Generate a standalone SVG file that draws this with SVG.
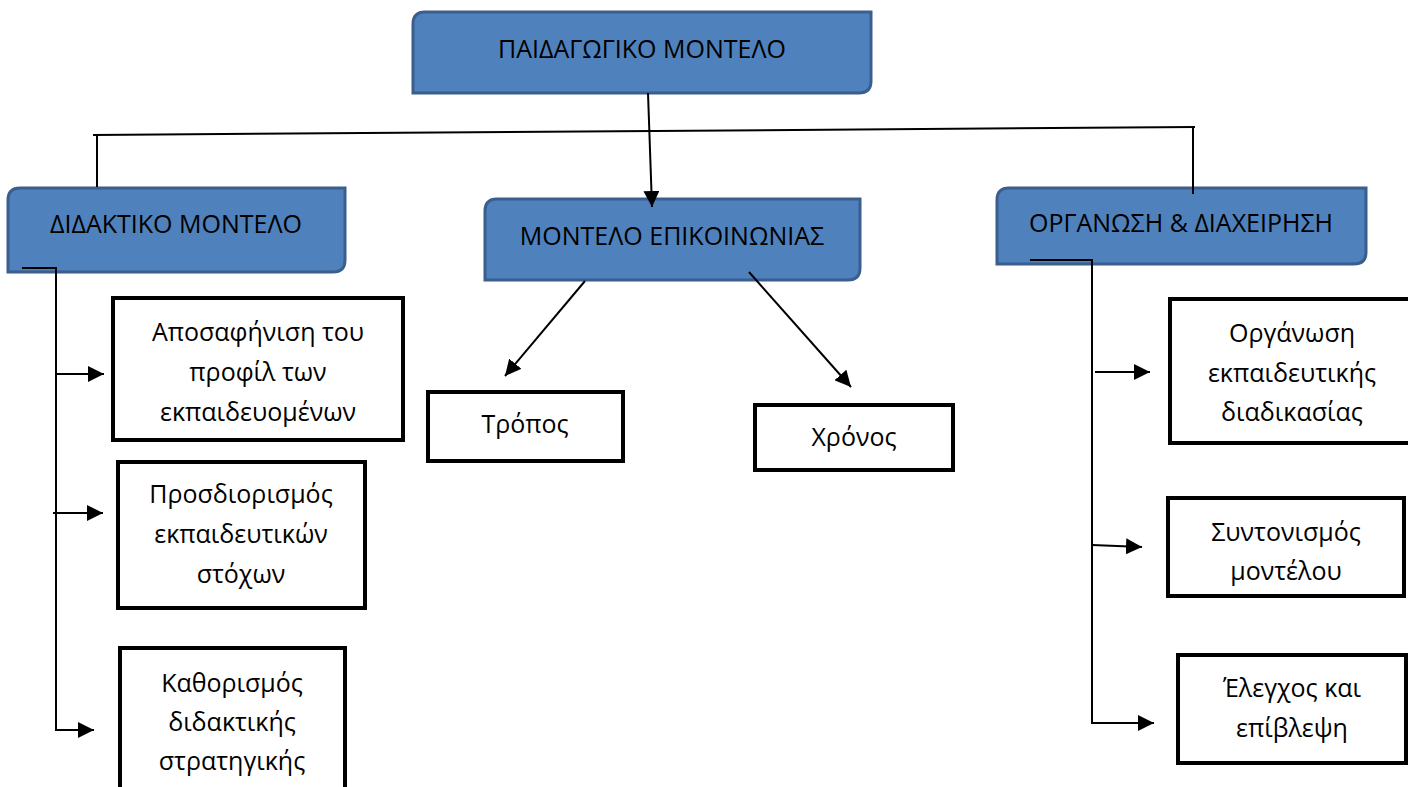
<svg xmlns="http://www.w3.org/2000/svg" width="1408" height="787" viewBox="0 0 1408 787">
<style>
.blue{fill:#4F81BD;stroke:#3A5F8C;stroke-width:3}
.box{fill:#fff;stroke:#000;stroke-width:4}
.t{font-family:"Open Sans","Noto Sans",sans-serif;font-size:25px;fill:#000;text-anchor:middle}
.ln{fill:none;stroke:#000;stroke-width:2}
</style>
<defs>
<marker id="ah" markerUnits="userSpaceOnUse" markerWidth="18" markerHeight="16" refX="16" refY="8" orient="auto">
<path d="M0,0 L16,8 L0,16 Z" fill="#000"/>
</marker>
</defs>
<g id="n-top">
<path class="blue" d="M425,12 L871,12 L871,81 Q871,93 859,93 L413,93 L413,24 Q413,12 425,12 Z"/>
<text class="t" x="642" y="58">ΠΑΙΔΑΓΩΓΙΚΟ ΜΟΝΤΕΛΟ</text>
</g>
<g id="n-didaktiko">
<path class="blue" d="M20,188 L345,188 L345,260 Q345,272 333,272 L8,272 L8,200 Q8,188 20,188 Z"/>
<text class="t" x="176" y="233">ΔΙΔΑΚΤΙΚΟ ΜΟΝΤΕΛΟ</text>
</g>
<g id="n-epikoinonia">
<path class="blue" d="M497,199 L860,199 L860,268 Q860,280 848,280 L485,280 L485,211 Q485,199 497,199 Z"/>
<text class="t" x="672" y="245">ΜΟΝΤΕΛΟ ΕΠΙΚΟΙΝΩΝΙΑΣ</text>
</g>
<g id="n-organosi">
<path class="blue" d="M1009,188 L1366,188 L1366,252 Q1366,264 1354,264 L997,264 L997,200 Q997,188 1009,188 Z"/>
<text class="t" x="1181" y="232">ΟΡΓΑΝΩΣΗ &amp; ΔΙΑΧΕΙΡΗΣΗ</text>
</g>
<g id="n-aposafinisi">
<rect class="box" x="113" y="298" width="290" height="142"/>
<text class="t" x="258" y="341">Αποσαφήνιση του</text>
<text class="t" x="258" y="381">προφίλ των</text>
<text class="t" x="258" y="421">εκπαιδευομένων</text>
</g>
<g id="n-prosdiorismos">
<rect class="box" x="118" y="462" width="247" height="146"/>
<text class="t" x="241" y="503">Προσδιορισμός</text>
<text class="t" x="241" y="543">εκπαιδευτικών</text>
<text class="t" x="241" y="583">στόχων</text>
</g>
<g id="n-kathorismos">
<rect class="box" x="120" y="648" width="225" height="160"/>
<text class="t" x="232" y="692">Καθορισμός</text>
<text class="t" x="232" y="731">διδακτικής</text>
<text class="t" x="232" y="770">στρατηγικής</text>
</g>
<g id="n-tropos">
<rect class="box" x="428" y="392" width="195" height="69"/>
<text class="t" x="525" y="433">Τρόπος</text>
</g>
<g id="n-chronos">
<rect class="box" x="755" y="405" width="198" height="65"/>
<text class="t" x="854" y="446">Χρόνος</text>
</g>
<g id="n-organosi-ekp">
<rect class="box" x="1170" y="299" width="250" height="144"/>
<text class="t" x="1292" y="342">Οργάνωση</text>
<text class="t" x="1292" y="382">εκπαιδευτικής</text>
<text class="t" x="1292" y="421">διαδικασίας</text>
</g>
<g id="n-syntonismos">
<rect class="box" x="1168" y="498" width="236" height="98"/>
<text class="t" x="1286" y="541">Συντονισμός</text>
<text class="t" x="1286" y="580">μοντέλου</text>
</g>
<g id="n-elegchos">
<rect class="box" x="1178" y="655" width="228" height="108"/>
<text class="t" x="1292" y="697">Έλεγχος και</text>
<text class="t" x="1292" y="737">επίβλεψη</text>
</g>
<g id="connectors">
<path class="ln" d="M93,135 L1195,127"/>
<path class="ln" d="M97,135 L97,187"/>
<path class="ln" d="M1193,128 L1193,194"/>
<path class="ln" d="M648,93 L652,207" marker-end="url(#ah)"/>
<path class="ln" d="M585,281 L505,376" marker-end="url(#ah)"/>
<path class="ln" d="M749,272 L851,387" marker-end="url(#ah)"/>
<path class="ln" d="M22,268 L56,268 L56,730 L94,730" marker-end="url(#ah)"/>
<path class="ln" d="M56,374 L104,374" marker-end="url(#ah)"/>
<path class="ln" d="M53,513 L103,513" marker-end="url(#ah)"/>
<path class="ln" d="M1030,260 L1092,260 L1092,723 L1154,723" marker-end="url(#ah)"/>
<path class="ln" d="M1095,372 L1150,372" marker-end="url(#ah)"/>
<path class="ln" d="M1092,545 L1142,547" marker-end="url(#ah)"/>
</g>
</svg>
